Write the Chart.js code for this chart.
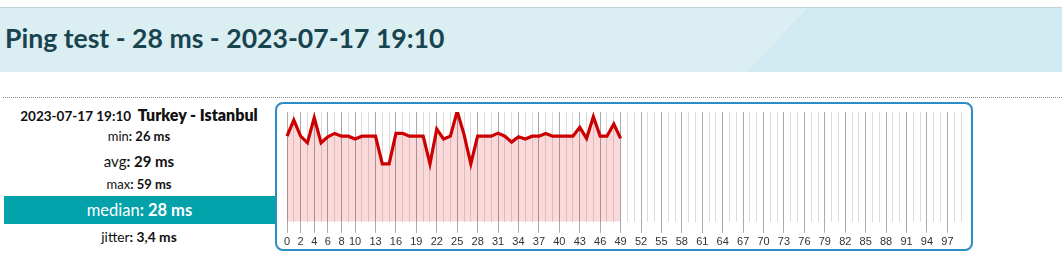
<!DOCTYPE html>
<html>
<head>
<meta charset="utf-8">
<script src="https://cdn.jsdelivr.net/npm/chart.js@4/dist/chart.umd.min.js"></script>
<style>
  html, body { margin: 0; padding: 0; background: #fff; }
  body { width: 1062px; height: 268px; position: relative; overflow: hidden; font-family: Lato, "Noto Sans", sans-serif; }
  #band { position: absolute; left: 0; top: 7px; width: 1062px; height: 65px; background: #dbeef2; border-top: 1px solid #bfd3d9; box-sizing: border-box; overflow: hidden; }
  #band svg { position: absolute; left: 0; top: 0; }
  #title { position: absolute; left: 5px; top: 22px; font-weight: 700; font-size: 26.6px; color: #17444f; white-space: nowrap; letter-spacing: 0; }
  #dots { position: absolute; left: 3px; top: 97px; width: 1059px; border-top: 1px dotted #8a8a8a; }
  .row { position: absolute; left: 4px; width: 270px; text-align: center; white-space: nowrap; color: #111; }
  #median { position: absolute; left: 4px; top: 196px; width: 271px; height: 28px; background: #03a2ab; color: #fff; font-size: 16.5px; line-height: 29px; text-align: center; }
  #box { position: absolute; left: 275px; top: 102px; width: 698px; height: 149px; border: 2px solid #2b8dc6; border-radius: 8px; box-sizing: border-box; }
  #wrap { position: absolute; left: 277px; top: 104px; width: 694px; height: 148px; }
</style>
</head>
<body>
<div id="band">
  <svg width="1062" height="65"><polygon points="808,0 1062,0 1062,65 745,65" fill="#d1e9f0"/></svg>
</div>
<div id="title">Ping test - 28 ms - 2023-07-17 19:10</div>
<div id="dots"></div>

<div class="row" style="top:105px; font-size:13.5px; font-weight:700;"><span>2023-07-17 19:10</span>&nbsp; <span style="font-size:16px; font-weight:800;">Turkey - Istanbul</span></div>
<div class="row" style="top:128px; font-size:13px;">min<b>: 26 ms</b></div>
<div class="row" style="top:152px; font-size:15px;">avg<b>: 29 ms</b></div>
<div class="row" style="top:176px; font-size:13px;">max<b>: 59 ms</b></div>
<div id="median">median<b>: 28 ms</b></div>
<div class="row" style="top:228px; font-size:13.8px;">jitter<b>: 3,4 ms</b></div>

<div id="box"></div>
<div id="wrap"><canvas id="c" width="694" height="148"></canvas></div>

<script>
// Sample slots shown on the x axis (100 slots, first 50 filled)
const slotCount = 100;
const categories = Array.from({length: slotCount}, (_, i) => String(i));
// Indices that carry a tick label
const tickLabels = [0, 2, 4, 6, 8, 10, 13, 16, 19, 22, 25, 28, 31, 34, 37, 40, 43, 46, 49, 52, 55, 58, 61, 64, 67, 70, 73, 76, 79, 82, 85, 88, 91, 94, 97];
// Plotted ping series (as drawn, axis units)
const pingValues = [
  28.0, 29.17, 28.0, 27.52, 29.34, 27.52, 27.96, 28.2, 28.0, 28.0,
  27.79, 28.0, 28.0, 28.0, 26.0, 26.0, 28.2, 28.2, 28.0, 28.0,
  28.0, 26.0, 28.52, 27.79, 28.0, 29.8, 28.13, 26.0, 28.0, 28.0,
  28.0, 28.22, 28.0, 27.57, 27.96, 27.79, 28.0, 28.0, 28.2, 28.0,
  28.0, 28.0, 28.0, 28.64, 27.84, 29.41, 28.0, 28.0, 28.88, 27.84
];
const yMin = 21.8;
const yMax = 29.75;

const labelSet = new Set(tickLabels);

new Chart(document.getElementById('c'), {
  type: 'line',
  data: {
    labels: categories,
    datasets: [{
      data: pingValues,
      borderColor: '#cc0000',
      backgroundColor: 'rgba(214, 0, 0, 0.15)',
      borderWidth: 3.2,
      fill: 'start',
      pointRadius: 0,
      tension: 0
    }]
  },
  options: {
    responsive: false,
    animation: false,
    layout: { padding: { left: 10, right: 10, top: 8, bottom: 0 } },
    plugins: { legend: { display: false }, tooltip: { enabled: false } },
    scales: {
      x: {
        offset: false,
        border: { display: false },
        grid: {
          color: ctx => labelSet.has(ctx.index) ? '#a9a9a9' : '#dcdcdc',
          tickColor: ctx => labelSet.has(ctx.index) ? '#a9a9a9' : 'rgba(0,0,0,0)',
          tickLength: 11,
          lineWidth: 1
        },
        ticks: {
          autoSkip: false,
          maxRotation: 0,
          minRotation: 0,
          padding: 3,
          color: '#333',
          font: { family: '"Liberation Sans", Arial, sans-serif', size: 11 },
          callback: (v, i) => labelSet.has(i) ? categories[i] : ''
        }
      },
      y: { display: false, min: yMin, max: yMax }
    }
  }
});
</script>
</body>
</html>
